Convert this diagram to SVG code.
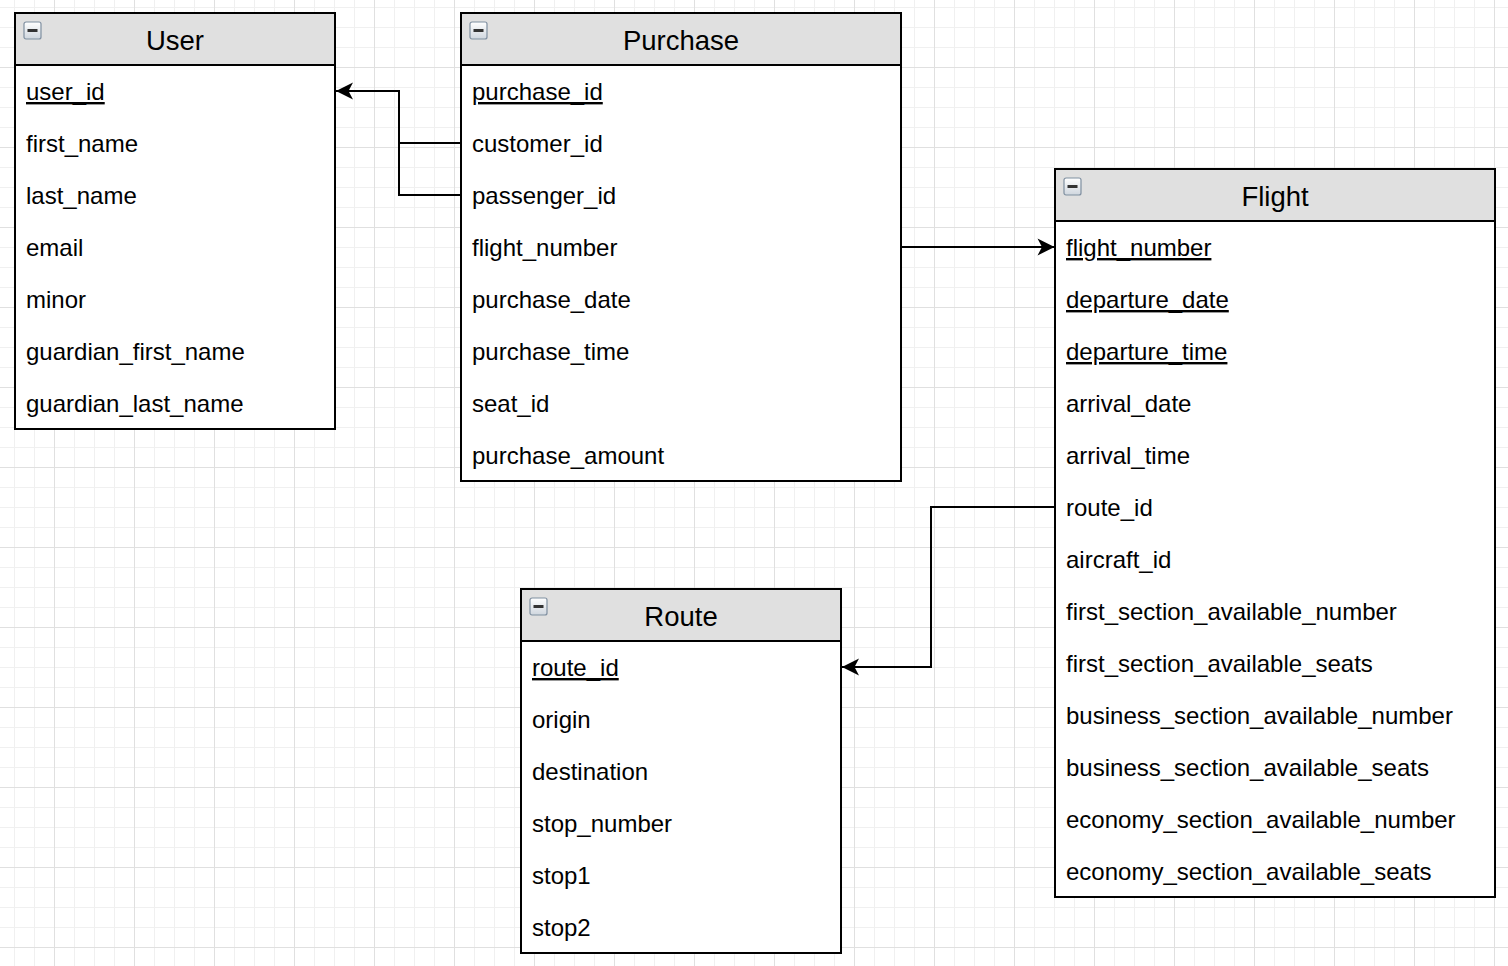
<svg xmlns="http://www.w3.org/2000/svg" width="1508" height="966" viewBox="0 0 1508 966">
<defs>
<pattern id="grid" patternUnits="userSpaceOnUse" x="14" y="7" width="80" height="80">
<path d="M0.5,0V80M20.5,0V80M60.5,0V80M0,0.5H80M0,20.5H80M0,40.5H80" stroke="#f0f0f0" stroke-width="1" fill="none"/>
<path d="M40.5,0V80M0,60.5H80" stroke="#e0e0e0" stroke-width="1" fill="none"/>
</pattern>
<linearGradient id="ig" x1="0" y1="0" x2="0" y2="1">
<stop offset="0" stop-color="#ffffff"/>
<stop offset="1" stop-color="#cfd6de"/>
</linearGradient>
<marker id="arr" markerUnits="userSpaceOnUse" viewBox="-18 -10 19 20" refX="0" refY="0" markerWidth="19" markerHeight="20" orient="auto">
<path d="M0,0 L-17,-8.5 L-12.5,0 L-17,8.5 Z" fill="#000"/>
</marker>
<g id="icon">
<rect x="0.5" y="0.5" width="17" height="17" rx="2" fill="url(#ig)" stroke="#7f8fa0" stroke-width="1.2"/>
<rect x="4" y="7.5" width="10" height="3" fill="#333"/>
</g>
</defs>
<style>
.box{fill:#fff;stroke:#000;stroke-width:2}
.hdr{fill:#e0e0e0;stroke:#000;stroke-width:2}
.title{font-family:"Liberation Sans",Arial,sans-serif;font-size:27.5px;fill:#000;text-anchor:middle}
.row{font-family:"Liberation Sans",Arial,sans-serif;font-size:24px;fill:#000}
.pk{text-decoration:underline}
.conn{fill:none;stroke:#000;stroke-width:2}
</style>
<rect x="0" y="0" width="1508" height="966" fill="#fff"/>
<rect x="0" y="0" width="1508" height="966" fill="url(#grid)"/>

<g id="connectors">
<path class="conn" d="M461,143 H399 V91 H336" marker-end="url(#arr)"/>
<path class="conn" d="M461,195 H399 V143"/>
<path class="conn" d="M901,247 H1054.5" marker-end="url(#arr)"/>
<path class="conn" d="M1055,507 H931 V667 H842" marker-end="url(#arr)"/>
</g>

<g id="user">
<rect class="box" x="15" y="13" width="320" height="416"/>
<rect class="hdr" x="15" y="13" width="320" height="52"/>
<use href="#icon" x="23.5" y="21.5"/>
<text class="title" x="175" y="50">User</text>
<text class="row pk" x="26" y="100">user_id</text>
<text class="row" x="26" y="152">first_name</text>
<text class="row" x="26" y="204">last_name</text>
<text class="row" x="26" y="256">email</text>
<text class="row" x="26" y="308">minor</text>
<text class="row" x="26" y="360">guardian_first_name</text>
<text class="row" x="26" y="412">guardian_last_name</text>
</g>

<g id="purchase">
<rect class="box" x="461" y="13" width="440" height="468"/>
<rect class="hdr" x="461" y="13" width="440" height="52"/>
<use href="#icon" x="469.5" y="21.5"/>
<text class="title" x="681" y="50">Purchase</text>
<text class="row pk" x="472" y="100">purchase_id</text>
<text class="row" x="472" y="152">customer_id</text>
<text class="row" x="472" y="204">passenger_id</text>
<text class="row" x="472" y="256">flight_number</text>
<text class="row" x="472" y="308">purchase_date</text>
<text class="row" x="472" y="360">purchase_time</text>
<text class="row" x="472" y="412">seat_id</text>
<text class="row" x="472" y="464">purchase_amount</text>
</g>

<g id="flight">
<rect class="box" x="1055" y="169" width="440" height="728"/>
<rect class="hdr" x="1055" y="169" width="440" height="52"/>
<use href="#icon" x="1063.5" y="177.5"/>
<text class="title" x="1275" y="206">Flight</text>
<text class="row pk" x="1066" y="256">flight_number</text>
<text class="row pk" x="1066" y="308">departure_date</text>
<text class="row pk" x="1066" y="360">departure_time</text>
<text class="row" x="1066" y="412">arrival_date</text>
<text class="row" x="1066" y="464">arrival_time</text>
<text class="row" x="1066" y="516">route_id</text>
<text class="row" x="1066" y="568">aircraft_id</text>
<text class="row" x="1066" y="620">first_section_available_number</text>
<text class="row" x="1066" y="672">first_section_available_seats</text>
<text class="row" x="1066" y="724">business_section_available_number</text>
<text class="row" x="1066" y="776">business_section_available_seats</text>
<text class="row" x="1066" y="828">economy_section_available_number</text>
<text class="row" x="1066" y="880">economy_section_available_seats</text>
</g>

<g id="route">
<rect class="box" x="521" y="589" width="320" height="364"/>
<rect class="hdr" x="521" y="589" width="320" height="52"/>
<use href="#icon" x="529.5" y="597.5"/>
<text class="title" x="681" y="626">Route</text>
<text class="row pk" x="532" y="676">route_id</text>
<text class="row" x="532" y="728">origin</text>
<text class="row" x="532" y="780">destination</text>
<text class="row" x="532" y="832">stop_number</text>
<text class="row" x="532" y="884">stop1</text>
<text class="row" x="532" y="936">stop2</text>
</g>
</svg>
